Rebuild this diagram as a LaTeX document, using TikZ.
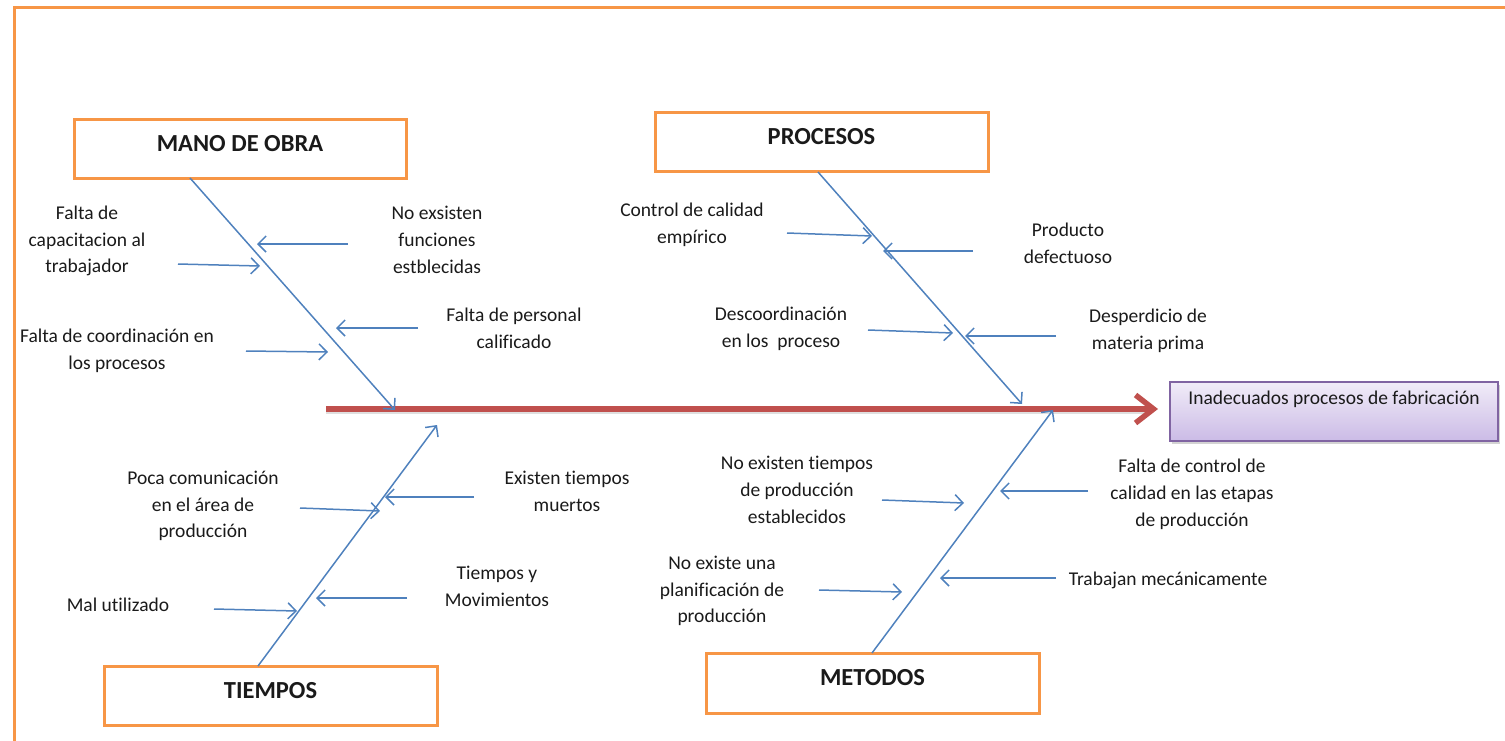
\documentclass[tikz,border=0pt]{standalone}
\usepackage{fontspec}
\setmainfont{Carlito}[Ligatures=NoCommon]
\usetikzlibrary{arrows.meta,shadows}
\definecolor{frameorange}{HTML}{F79646}
\definecolor{boneblue}{HTML}{4F81BD}
\definecolor{spinered}{HTML}{C0504D}
\definecolor{effpurple}{HTML}{8064A2}
\definecolor{efftop}{HTML}{F1ECF8}
\definecolor{effbot}{HTML}{CBBBE6}
\definecolor{txt}{HTML}{1A1A1A}
\begin{document}
\begin{tikzpicture}[x=1pt,y=-1pt,
  catbox/.style={draw=frameorange, line width=3pt, minimum width=332pt, minimum height=59pt,
    font=\fontsize{24.5}{28}\selectfont\bfseries, text=txt, text height=17pt, text depth=11.5pt, inner sep=0pt},
  cause/.style={align=center, font=\fontsize{19.5}{26.8}\selectfont, text=txt, inner sep=0pt},
  bone/.style={draw=boneblue, line width=1.5pt, -{Straight Barb[length=8pt,width=16pt]}},
  subarrow/.style={draw=boneblue, line width=1.5pt, -{Straight Barb[length=8pt,width=16pt]}},
  spine/.style={draw=spinered, line width=5.5pt, -{Straight Barb[length=18pt,width=28pt]}},
  effbox/.style={draw=effpurple, line width=2pt, top color=efftop, bottom color=effbot,
    minimum width=328pt, minimum height=59pt, inner sep=0pt,
    font=\fontsize{19.5}{23}\selectfont, text=txt, text height=13.5pt, text depth=28.5pt,
    drop shadow={opacity=0.35, shadow xshift=2pt, shadow yshift=-3pt}},
  framestyle/.style={draw=frameorange, line width=3pt}
]
\useasboundingbox (0,0) rectangle (1505,740);
% outer frame
\coordinate (fbl) at (14,745);
\coordinate (ftl) at (14,7);
\coordinate (ftr) at (1510,7);
\draw[framestyle] (fbl) -- (ftl) -- (ftr);

% category boxes
\node[catbox] (mano) at (240,148.5) {MANO DE OBRA};
\node[catbox, minimum width=333pt] (proc) at (821.5,141.5) {PROCESOS};
\node[catbox, minimum width=333pt] (tiem) at (270.5,695.5) {TIEMPOS};
\node[catbox, minimum width=333pt, minimum height=60pt] (meto) at (872.5,683) {METODOS};

% effect box
\node[effbox] (eff) at (1334,411.5) {Inadecuados procesos de fabricación};

% spine
\coordinate (spS) at (326,409);
\coordinate (spE) at (1158,409);
\draw[draw=black!25, line width=5pt, opacity=0.5] ([yshift=-2pt]spS) -- ([xshift=-12pt,yshift=-2pt]spE);
\draw[spine] (spS) -- (spE);

% main bones
\coordinate (bMs) at (190,178); \coordinate (bMe) at (395,410);
\coordinate (bPs) at (818,172); \coordinate (bPe) at (1022,404);
\coordinate (bTs) at (258,666); \coordinate (bTe) at (437,425);
\coordinate (bEs) at (872,653); \coordinate (bEe) at (1053,410);
\draw[bone] (bMs) -- (bMe);
\draw[bone] (bPs) -- (bPe);
\draw[bone] (bTs) -- (bTe);
\draw[bone] (bEs) -- (bEe);

% cause texts
\node[cause] (c1) at (87,241) {Falta de\\capacitacion al\\trabajador};
\node[cause] (c2) at (437,240) {No exsisten\\funciones\\estblecidas};
\node[cause] (c3) at (514,328) {Falta de personal\\calificado};
\node[cause] (c4) at (117,351) {Falta de coordinación en\\los procesos};
\node[cause] (c5) at (692,224.5) {Control de calidad\\empírico};
\node[cause] (c6) at (1068,243) {Producto\\defectuoso};
\node[cause] (c7) at (781,329) {Descoordinación\\en los~ proceso};
\node[cause] (c8) at (1148,331) {Desperdicio de\\materia prima};
\node[cause] (c9) at (203,506) {Poca comunicación\\en el área de\\producción};
\node[cause] (c10) at (567,491.5) {Existen tiempos\\muertos};
\node[cause] (c11) at (118,605) {Mal utilizado};
\node[cause] (c12) at (497,586) {Tiempos y\\Movimientos};
\node[cause] (c13) at (797,490) {No existen tiempos\\de producción\\establecidos};
\node[cause] (c14) at (1192,494) {Falta de control de\\calidad en las etapas\\de producción};
\node[cause] (c15) at (722,591) {No existe una\\planificación de\\producción};
\node[cause] (c16) at (1168,580) {Trabajan mecánicamente};

% sub arrows
\foreach \n/\sx/\sy/\ex/\ey in {
  1/348/244/257/244, 2/178/264/260/266, 3/418/328/336/328, 4/246/351/328/352,
  5/787/233/872/236, 6/973/251/883/251, 7/868/330/953/333, 8/1056/336/965/336,
  9/300/508/380/511, 10/474/497/385/497, 11/214/609/297/611, 12/407/598/316/598,
  13/882/500/964/503, 14/1088/491/1000/491, 15/819/590/902/592, 16/1056/578/940/578}{
  \coordinate (s\n) at (\sx,\sy);
  \coordinate (e\n) at (\ex,\ey);
  \draw[subarrow] (s\n) -- (e\n);
}
\end{tikzpicture}
\end{document}
